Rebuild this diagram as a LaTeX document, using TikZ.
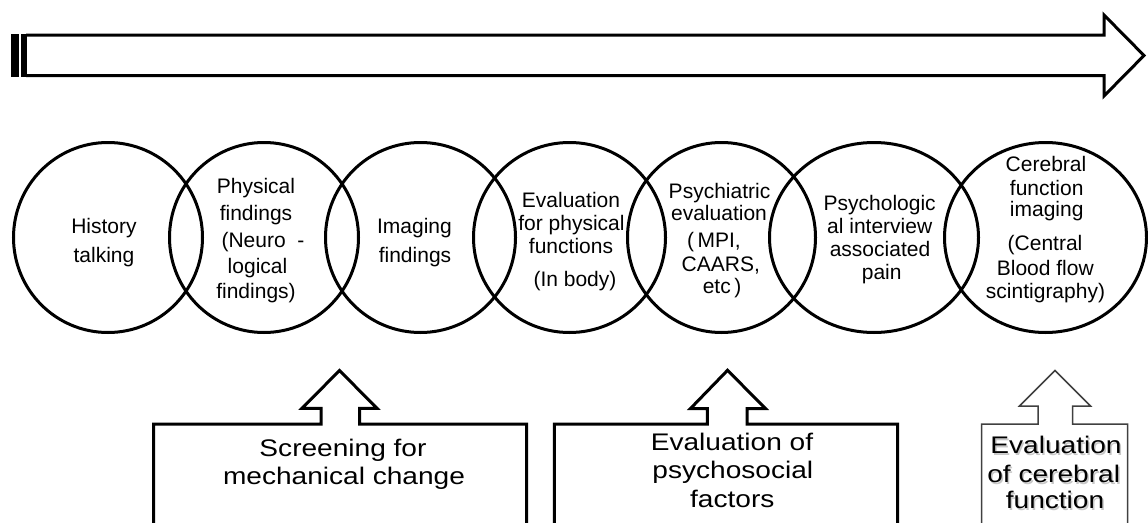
\documentclass[tikz,border=0pt]{standalone}
\usepackage{fontspec}
\setmainfont{Liberation Sans}
\newfontfamily\boxfont{Liberation Sans}[FakeStretch=1.17]
\usetikzlibrary{shapes.geometric}
\begin{document}
\begin{tikzpicture}[x=1pt,y=-1pt,
  ring/.style={draw, ellipse, line width=3pt, inner sep=0pt, minimum height=190pt},
  ctext/.style={anchor=base, inner sep=0pt, font=\fontsize{21}{23}\selectfont},
  btext/.style={anchor=base, inner sep=0pt, font=\boxfont\fontsize{24}{28}\selectfont},
  shtext/.style={btext, text=black!22},
  tab/.style={line width=3pt, line join=miter},
  graytab/.style={line width=1.5pt, line join=miter, draw=black!75},
]
\useasboundingbox (0,0) rectangle (1148,522);
\clip (0,0) rectangle (1148,522);

% ---- top timeline arrow ----
\fill (11,33.5) rectangle (19,77);
\fill (21,33.5) rectangle (27,77);
\draw[tab] (26,35) -- (1104,35) -- (1104,15) -- (1144,55.5) -- (1104,96) -- (1104,75.5) -- (26,75.5);

% ---- circles ----
\node[ring, minimum width=189pt] (c1) at (108,237.5) {};
\node[ring, minimum width=189pt] (c2) at (264,237.5) {};
\node[ring, minimum width=190pt] (c3) at (420.5,237.5) {};
\node[ring, minimum width=192pt] (c4) at (569.5,237.5) {};
\node[ring, minimum width=188pt] (c5) at (721.5,237.5) {};
\node[ring, minimum width=209pt] (c6) at (874,237.5) {};
\node[ring, minimum width=202pt] (c7) at (1045.5,237.5) {};

% ---- circle texts ----
\node[ctext] (t1a) at (104,233) {History};
\node[ctext] (t1b) at (104,262) {talking};

\node[ctext] (t2a) at (256,193) {Physical};
\node[ctext] (t2b) at (256,220) {findings};
\node[ctext] (t2c) at (263,247) {(Neuro\ \ -};
\node[ctext] (t2d) at (257.5,273) {logical};
\node[ctext] (t2e) at (256,298) {findings)};

\node[ctext] (t3a) at (414.5,233) {Imaging};
\node[ctext] (t3b) at (415,262) {findings};

\node[ctext] (t4a) at (571,207.3) {Evaluation};
\node[ctext] (t4b) at (571.5,230.5) {for physical};
\node[ctext] (t4c) at (571,253) {functions};
\node[ctext] (t4d) at (575,286.5) {(In body)};

\node[ctext] (t5a) at (719.5,198.3) {Psychiatric};
\node[ctext] (t5b) at (719,220.7) {evaluation};
\node[ctext] (t5c) at (714,247.3) {(\,MPI,};
\node[ctext] (t5d) at (720.8,271.7) {CAARS,};
\node[ctext] (t5e) at (722,293.3) {etc\,)};

\node[ctext] (t6a) at (879.7,210.7) {Psychologic};
\node[ctext] (t6b) at (879.7,233.3) {al interview};
\node[ctext] (t6c) at (880,256.7) {associated};
\node[ctext] (t6d) at (881.7,279.3) {pain};

\node[ctext] (t7a) at (1046,171.7) {Cerebral};
\node[ctext] (t7b) at (1046.7,195) {function};
\node[ctext] (t7c) at (1046.7,216.7) {imaging};
\node[ctext] (t7d) at (1045,250) {(Central};
\node[ctext] (t7e) at (1045.3,275) {Blood flow};
\node[ctext] (t7f) at (1045.5,298.3) {scintigraphy)};

% ---- bottom boxes with up arrows ----
\draw[tab] (153.5,540) -- (153.5,424) -- (321,424) -- (321,408.3) -- (302,408.3)
  -- (339.5,370.5) -- (377,408.3) -- (359.5,408.3) -- (359.5,424) -- (526.5,424) -- (526.5,540);
\node[btext] (b1a) at (343,456.7) {Screening for};
\node[btext] (b1b) at (344,484) {mechanical change};

\draw[tab] (554.3,540) -- (554.3,424) -- (707.3,424) -- (707.3,408.5) -- (690.5,408.5)
  -- (727.5,370.3) -- (765.5,408.5) -- (747,408.5) -- (747,424) -- (897.5,424) -- (897.5,540);
\node[btext] (b2a) at (732,450) {Evaluation of};
\node[btext] (b2b) at (732.8,478) {psychosocial};
\node[btext] (b2c) at (732.3,507) {factors};

\draw[graytab] (981.5,540) -- (981.5,424) -- (1038,424) -- (1038,406) -- (1019.5,406)
  -- (1055,370.5) -- (1090.5,406) -- (1072.5,406) -- (1072.5,424) -- (1127.5,424) -- (1127.5,540);
\node[shtext] (s3a) at (1057.5,455) {Evaluation};
\node[shtext] (s3b) at (1055.2,484) {of cerebral};
\node[shtext] (s3c) at (1056.5,510) {function};
\node[btext] (b3a) at (1056,453) {Evaluation};
\node[btext] (b3b) at (1053.7,482) {of cerebral};
\node[btext] (b3c) at (1055,508) {function};
\end{tikzpicture}
\end{document}
